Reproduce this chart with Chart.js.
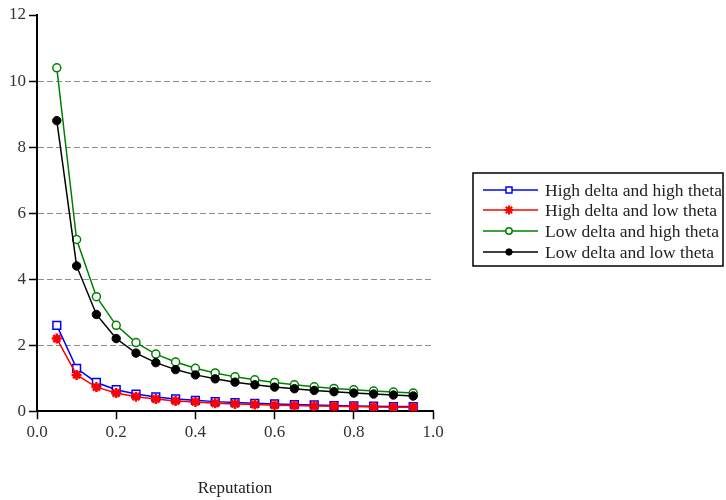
<!DOCTYPE html>
<html>
<head>
<meta charset="utf-8">
<script src="https://cdn.jsdelivr.net/npm/chart.js@4"></script>
<style>
  html,body{margin:0;padding:0;background:#fff;}
  #wrap{width:726px;height:500px;position:relative;}
</style>
</head>
<body>
<div id="wrap"><canvas id="c" width="726" height="500"></canvas></div>
<script>
// reputation values on the x axis
const reputation=[0.05,0.10,0.15,0.20,0.25,0.30,0.35,0.40,0.45,0.50,
                  0.55,0.60,0.65,0.70,0.75,0.80,0.85,0.90,0.95];
const seriesNames=['High delta and high theta','High delta and low theta',
                   'Low delta and high theta','Low delta and low theta'];
const highDeltaHighTheta=[2.60,1.30,0.87,0.65,0.52,0.43,0.37,0.33,0.29,0.26,
                          0.24,0.22,0.20,0.19,0.17,0.16,0.15,0.14,0.14];
const highDeltaLowTheta=[2.20,1.10,0.73,0.55,0.44,0.37,0.31,0.28,0.24,0.22,
                         0.20,0.18,0.17,0.16,0.15,0.14,0.13,0.12,0.12];
const lowDeltaHighTheta=[10.40,5.20,3.47,2.60,2.08,1.73,1.49,1.30,1.16,1.04,
                         0.95,0.87,0.80,0.74,0.69,0.65,0.61,0.58,0.55];
const lowDeltaLowTheta=[8.80,4.40,2.93,2.20,1.76,1.47,1.26,1.10,0.98,0.88,
                        0.80,0.73,0.68,0.63,0.59,0.55,0.52,0.49,0.46];
const xTicks=[0,0.2,0.4,0.6,0.8,1.0];
const yTicks=[0,2,4,6,8,10,12];

const FONT='"Liberation Serif","DejaVu Serif",serif';
const pts=arr=>arr.map((y,i)=>({x:reputation[i],y}));

const styles=[
  {col:'#0000ff',ps:'rect',  r:5.5,fill:'#ffffff',bw:1.5},
  {col:'#ff0000',ps:'star',  r:5,  fill:'#ff0000',bw:2.5},
  {col:'#008000',ps:'circle',r:4,  fill:'#ffffff',bw:1.5},
  {col:'#000000',ps:'circle',r:4.2,fill:'#000000',bw:1}
];
const series=[highDeltaHighTheta,highDeltaLowTheta,lowDeltaHighTheta,lowDeltaLowTheta];

const datasets=series.map((s,i)=>({
  label:seriesNames[i],data:pts(s),
  borderColor:styles[i].col,backgroundColor:styles[i].fill,borderWidth:1.5,
  pointStyle:styles[i].ps,pointRadius:styles[i].r,pointBorderWidth:styles[i].bw,
  pointBackgroundColor:styles[i].fill,pointBorderColor:styles[i].col,
  tension:0,fill:false
}));
// draw black and green under blue/red like the original
datasets.reverse();

// boxed legend with line + marker samples
const boxLegend={
  id:'boxLegend',
  afterDraw(chart){
    const c=chart.ctx;
    const L=473,T=173,W=250,H=93;
    c.save();
    c.strokeStyle='#000'; c.lineWidth=1.5;
    c.strokeRect(L,T,W,H);
    const rows=[190,210,231,252];
    seriesNames.forEach((name,i)=>{
      const st=styles[i], y=rows[i];
      c.strokeStyle=st.col; c.lineWidth=1.5;
      c.beginPath(); c.moveTo(483,y); c.lineTo(538,y); c.stroke();
      c.fillStyle=st.fill; c.strokeStyle=st.col; c.lineWidth=st.bw;
      c.beginPath();
      if(st.ps==='rect'){ c.rect(506,y-3,6,6); }
      else if(st.ps==='circle'){ c.arc(509,y,3.2,0,Math.PI*2); }
      if(st.ps!=='star'){ c.fill(); c.stroke(); }
      else{
        c.lineWidth=2;
        c.beginPath();
        for(let k=0;k<4;k++){
          const a=k*Math.PI/4;
          c.moveTo(509-4.5*Math.cos(a),y-4.5*Math.sin(a));
          c.lineTo(509+4.5*Math.cos(a),y+4.5*Math.sin(a));
        }
        c.stroke();
      }
      c.fillStyle='#222'; c.font='17.5px '+FONT;
      c.textAlign='left'; c.textBaseline='middle';
      c.fillText(name,545,y+1);
    });
    c.restore();
  }
};

new Chart(document.getElementById('c'),{
  type:'line',
  data:{datasets},
  plugins:[boxLegend],
  options:{
    responsive:false,animation:false,
    layout:{padding:{left:6,right:293,top:15,bottom:0}},
    plugins:{legend:{display:false},tooltip:{enabled:false}},
    scales:{
      x:{
        type:'linear',min:0,max:1,
        afterBuildTicks:ax=>{ax.ticks=xTicks.map(v=>({value:v}));},
        ticks:{callback:v=>v.toFixed(1),color:'#333',font:{family:FONT,size:17},padding:3,maxRotation:0},
        grid:{drawOnChartArea:false,drawTicks:true,tickLength:8,tickColor:'#000',tickWidth:1.5},
        border:{color:'#000',width:2},
        title:{display:true,text:'Reputation',color:'#222',font:{family:FONT,size:17},padding:{top:33,bottom:1}}
      },
      y:{
        min:0,max:12,
        afterBuildTicks:ax=>{ax.ticks=yTicks.map(v=>({value:v}));},
        ticks:{color:'#333',font:{family:FONT,size:17},padding:3},
        grid:{
          color:ctx=>(ctx.tick&&(ctx.tick.value===0||ctx.tick.value===12))?'rgba(0,0,0,0)':'#8c8c8c',
          lineWidth:1,
          drawTicks:true,tickLength:8,tickColor:'#000',tickWidth:1.5,tickBorderDash:[]
        },
        border:{color:'#000',width:2,dash:[6,3]}
      }
    }
  }
});
</script>
</body>
</html>
